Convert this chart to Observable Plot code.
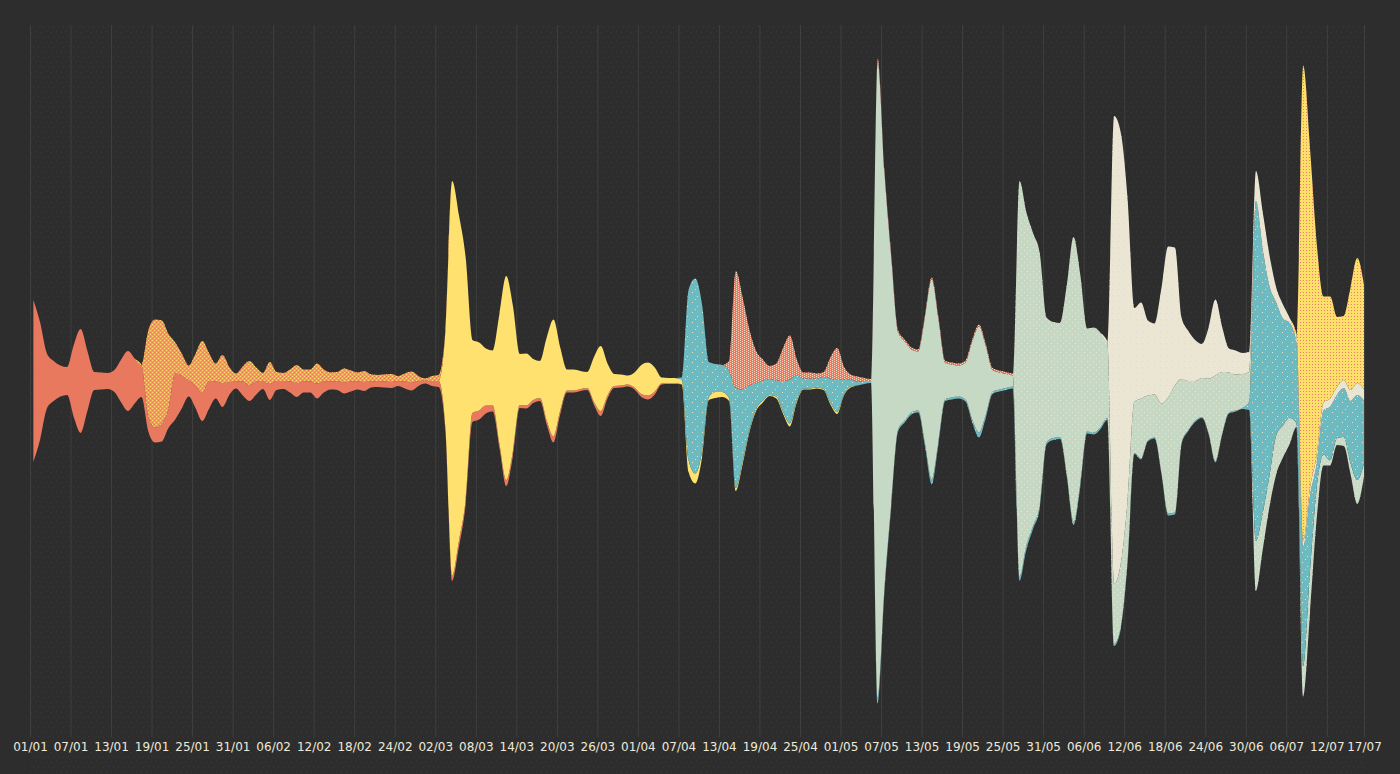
<!DOCTYPE html>
<html><head><meta charset="utf-8">
<script src="https://cdn.jsdelivr.net/npm/d3@7"></script>
<script src="https://cdn.jsdelivr.net/npm/@observablehq/plot@0.6"></script>
<style>html,body{margin:0;padding:0;background:#2d2d2d;overflow:hidden;} #chart{width:1400px;height:774px;}</style>
</head><body><div id="chart"></div>
<script>
// ---- data (daily thickness values; one value per day, at noon) ----
const tickLabels = ["01/01","07/01","13/01","19/01","25/01","31/01","06/02","12/02","18/02","24/02","02/03","08/03","14/03","20/03","26/03","01/04","07/04","13/04","19/04","25/04","01/05","07/05","13/05","19/05","25/05","31/05","06/06","12/06","18/06","24/06","30/06","06/07","12/07","17/07"];
const year = 2021;
const nDays = 198;

const seriesNames = ["salmon","yellow","sageJ","teal","sage","sageD","cream","gold","salmonY","salmonW"];
const seriesStart = [0, 61, 181, 96, 125, 146, 160, 188, 17, 103];

const salmon = [162,117,55,40,31,28,73,104,60,18, 17,16,22,43,60,45,32,15,15,18, 19,46,32,16,22,28,28,17,24,13, 7,14,16,13,8,16,9,8,11,14, 11,11,15,11,8,9,11,10,8,9, 6,6,6,6,5,7,8,5,3,5, 6,3,5,6,5,9,9,8,6,4, 6,5,3,3,3,3,4,6,4,2, 2,2,2,3,5,3,2,2,2,2, 3,4,3,1,1,1];
const yellow = [97,395,326,242,73,68,57,55,130, 204,145,51,52,41,37,83,117,63,21, 21,18,16,45,65,32,12,11,9,15, 29,33,24,6,5,5,5,12,10,6, 3,6,5,3,3,3,2,2,2,1, 2,2,3,2,1,1,1,1,2,2, 1,1,0,0,0];
const sageJ = [50,37,31,39,32,26,4,30,43,30,11,5,7,9,11,24,13];
const teal = [2,170,195,147, 35,28,27,27,100,72,45,26,20,16, 16,31,44,26,10,10,9,12,24,32, 15,7,4,3,2,6,4,3,2,2, 2,2,3,5,3,2,2,2,2,3, 5,3,2,2,2,2,4,4,3,3, 2,2,2,2,3,3,2,2,2,2, 2,2,2,1,1,1,1,1,2,2, 1,1,1,1,1,1,1,1,1,1, 8,340,264,190,133,107,95,80,120,75, 25,44,54,43,49,62,85,63];
const sage = [636,416,248,98,79,63,59,126,200,122,36,33,31,37,78,106,69,22,17,14,11];
const sageD = [396,334,293,252, 125,116,114,190,285,209,103,105,94,76, 60,64,60,51,60,45,43,69,116,127, 64,49,40,39,55,86,62,40,36,34,30];
const cream = [468,430,301,94,96,75,71,115,151,138, 61,50,41,34,51,76,45,24,24,21, 20,30,37,31,15,14,5,8,6,8, 8,8,8,8,8,11,12,11];
const gold = [475,340,212,106,102,70,64,102,125,104];
const salmonY = [85,108,103, 75,31,22,15,32,52,28,18,28,15, 8,15,24,14,8,22,9,8,12,18, 12,12,20,12,9,9,14,11,9,11, 7,6,7,8,5,8,11,5,2,5,6];
const salmonW = [10,117,92,56,32,21,13, 17,33,44,16,6,6,5,5,21,32, 13,5,5,3,2,3,2,2,2,2, 2,2,2,2,2,2,2,2,2,2, 2,2,2,2,2,2];

const seriesValues = [salmon, yellow, sageJ, teal, sage, sageD, cream, gold, salmonY, salmonW];
const seriesBase = ["#e8795f","#fee16e","#c9dbc6","#6dbac1","#c6d9c4","#c5d8c3","#ebe6d3","#fedf6b","#ee9f63","#e8795f"];
const dotted = ["sageJ","teal","sageD","cream","gold","salmonY","salmonW"];

// ---- build wide table, then stack (silhouette = centred stream) ----
const parseLabel = s => { const [dd, mm] = s.split("/").map(Number); return new Date(Date.UTC(year, mm - 1, dd)); };
const tickDates = tickLabels.map(parseLabel);
const dayDate = d => new Date(Date.UTC(year, 0, 1 + d, 12));
const xEnd = dayDate(nDays - 1);
const tickPos = tickDates.slice(0, -1).concat([xEnd]);
const wide = d3.range(nDays).map(d => {
  const row = {date: dayDate(d)};
  seriesNames.forEach((name, k) => {
    const i = d - seriesStart[k], vals = seriesValues[k];
    row[name] = (i >= 0 && i < vals.length) ? vals[i] : 0;
  });
  return row;
});
const stacked = d3.stack().keys(seriesNames).offset(d3.stackOffsetSilhouette)(wide);
const rows = [];
stacked.forEach(layer => layer.forEach(p => rows.push({date: p.data.date, series: layer.key, y1: p[0], y2: p[1]})));
const labelOf = new Map(tickPos.map((t, i) => [+t, tickLabels[i]]));
const curve = "monotone-x";

const chart = Plot.plot({
  width: 1400,
  height: 774,
  marginLeft: 30,
  marginRight: 36,
  marginTop: 25,
  marginBottom: 37,
  style: {background: "#2d2d2d", color: "#eeeadb", fontFamily: "DejaVu Sans", fontSize: "12px"},
  x: {type: "utc", domain: [tickDates[0], xEnd], ticks: tickPos, tickFormat: t => labelOf.get(+t), tickSize: 0, tickPadding: 5, label: null},
  y: {domain: [-356, 356], axis: null},
  color: {type: "ordinal", domain: seriesNames, range: seriesBase},
  marks: [
    Plot.ruleX(tickPos, {stroke: "#3f3f3f", strokeWidth: 1}),
    Plot.areaY(rows, {x: "date", y1: "y1", y2: "y2", z: "series", fill: "series", curve}),
    ...dotted.map(s => Plot.areaY(rows.filter(r => r.series === s), {x: "date", y1: "y1", y2: "y2", fill: `url(#dots-${s})`, curve}))
  ]
});

// ---- dot patterns (transparent tiles laid over the solid fills) ----
const svg = d3.select(chart);
const defs = svg.insert("defs", ":first-child");
// align tiles with device pixels, cancelling any half-pixel translate on the area groups
const anyArea = chart.querySelector("path[fill^='url']");
let shift = [0, 0];
if (anyArea) {
  const g = anyArea.closest("g");
  const m = g && g.getAttribute("transform") && g.getAttribute("transform").match(/translate\(([-\d.]+)[ ,]+([-\d.]+)\)/);
  if (m) shift = [-(+m[1] % 1), -(+m[2] % 1)];
}
function pattern(id, w, h, dots, aligned = true) {
  const p = defs.append("pattern").attr("id", id).attr("width", w).attr("height", h).attr("patternUnits", "userSpaceOnUse");
  if (aligned && (shift[0] || shift[1])) p.attr("patternTransform", `translate(${shift[0]},${shift[1]})`);
  dots.forEach(([x, y, c]) => p.append("rect").attr("x", x).attr("y", y).attr("width", 1).attr("height", 1).attr("fill", c).attr("shape-rendering", "crispEdges"));
}
pattern("dots-bg", 10, 10, [[1,2,"#3b3b3b"],[6,1,"#393939"],[3,7,"#3a3a3a"],[8,6,"#3b3b3b"]], false);
pattern("dots-salmonY", 4, 4, [[0,0,"#fde06c"],[2,2,"#fde06c"],[2,0,"#e8795f"],[0,2,"#e8795f"]]);
pattern("dots-salmonW", 4, 2, [[0,0,"#f2dcc6"],[2,1,"#f2dcc6"]]);
pattern("dots-gold", 3, 3, [[1,1,"#ef7d6c"]]);
pattern("dots-teal", 10, 10, [[2,2,"#e6e2cb"],[7,6,"#e6e2cb"],[5,9,"#d9e0cc"]]);
pattern("dots-sageD", 6, 6, [[1,1,"#e9e6d3"],[4,4,"#e9e6d3"]]);
pattern("dots-sageJ", 6, 6, [[1,1,"#ebe7d6"],[4,4,"#ebe7d6"]]);
pattern("dots-cream", 6, 6, [[2,1,"#d3e0cc"],[5,4,"#f1e6b8"]]);
// dotted background behind the marks
svg.insert("rect", "defs + *").attr("x", 30).attr("y", 25).attr("width", 1334).attr("height", 749).attr("fill", "url(#dots-bg)");

document.getElementById("chart").appendChild(chart);
</script></body></html>
